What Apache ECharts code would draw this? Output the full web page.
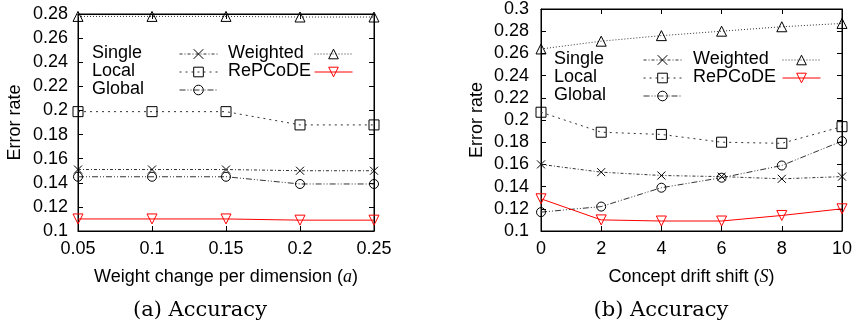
<!DOCTYPE html>
<html>
<head>
<meta charset="utf-8">
<script src="https://cdn.jsdelivr.net/npm/echarts@6/dist/echarts.min.js"></script>
<style>html,body{margin:0;padding:0;background:#fff}#c{width:860px;height:328px}</style>
</head>
<body>
<div id="c"></div>
<script>
// ---- data ----
var leftX = ['0.05', '0.1', '0.15', '0.2', '0.25'];
var leftSingle = [0.151, 0.151, 0.151, 0.150, 0.150];
var leftLocal = [0.199, 0.199, 0.199, 0.188, 0.188];
var leftGlobal = [0.145, 0.145, 0.145, 0.139, 0.139];
var leftWeighted = [0.278, 0.278, 0.278, 0.2775, 0.2775];
var leftRePCoDE = [0.110, 0.110, 0.110, 0.109, 0.109];

var rightX = ['0', '2', '4', '6', '8', '10'];
var rightSingle = [0.160, 0.153, 0.150, 0.149, 0.147, 0.149];
var rightLocal = [0.207, 0.189, 0.187, 0.180, 0.179, 0.194];
var rightGlobal = [0.117, 0.122, 0.139, 0.148, 0.159, 0.181];
var rightWeighted = [0.264, 0.271, 0.276, 0.280, 0.284, 0.287];
var rightRePCoDE = [0.129, 0.110, 0.109, 0.109, 0.114, 0.120];

var seriesNames = ['Single', 'Local', 'Global', 'Weighted', 'RePCoDE'];
var leftYTicks = {min: 0.1, max: 0.28, interval: 0.02};
var rightYTicks = {min: 0.1, max: 0.3, interval: 0.02};

// ---- styles ----
var FONT = "'Liberation Sans', Arial, sans-serif";
var styles = {
  Single:   {symbol: 'path://M0 0L10 10M10 0L0 10', size: 8, line: '#333', mark: '#000', dash: [3, 2, 1, 2], rotate: 0},
  Local:    {symbol: 'rect', size: 10, line: '#333', mark: '#000', dash: [2, 4], rotate: 0},
  Global:   {symbol: 'circle', size: 9, line: '#333', mark: '#000', dash: [6, 2, 1, 2, 1, 2], rotate: 0},
  Weighted: {symbol: 'triangle', size: 10, line: '#333', mark: '#000', dash: [1, 2], rotate: 0},
  RePCoDE:  {symbol: 'triangle', size: 10, line: '#ff0000', mark: '#ff0000', dash: 'solid', rotate: 180}
};

function mkSeries(name, data, gi) {
  var s = styles[name];
  return {
    type: 'line', name: name, data: data,
    xAxisIndex: gi, yAxisIndex: gi,
    symbol: s.symbol, symbolSize: s.size, symbolRotate: s.rotate,
    showAllSymbol: true,
    lineStyle: {color: s.line, width: 1, type: s.dash},
    itemStyle: {color: 'rgba(255,255,255,0)', borderColor: s.mark, borderWidth: 1},
    emphasis: {disabled: true},
    z: 3
  };
}

var leftData = {Single: leftSingle, Local: leftLocal, Global: leftGlobal, Weighted: leftWeighted, RePCoDE: leftRePCoDE};
var rightData = {Single: rightSingle, Local: rightLocal, Global: rightGlobal, Weighted: rightWeighted, RePCoDE: rightRePCoDE};

var series = [];
seriesNames.forEach(function (n) { series.push(mkSeries(n, leftData[n], 0)); });
seriesNames.forEach(function (n) { series.push(mkSeries(n, rightData[n], 1)); });

var yFmt = function (v) { return String(+v.toFixed(2)); };
var tick = {show: true, inside: true, length: 5, lineStyle: {color: '#000', width: 1}};
var axLine = {show: true, lineStyle: {color: '#000', width: 1}};
var lbl = {color: '#000', fontFamily: FONT, fontSize: 18};

function xMain(gi, data, name, gap) {
  return {type: 'category', gridIndex: gi, data: data, boundaryGap: false, position: 'bottom',
    axisLine: axLine, axisTick: tick, axisLabel: Object.assign({margin: 9, interval: 0}, lbl),
    splitLine: {show: false},
    name: name, nameLocation: 'middle', nameGap: gap,
    nameTextStyle: {color: '#000', fontFamily: FONT, fontSize: 18,
      rich: {i: {fontFamily: "'Liberation Serif', serif", fontStyle: 'italic', fontSize: 18, color: '#000'}}}};
}
function xTop(gi, data) {
  return {type: 'category', gridIndex: gi, data: data, boundaryGap: false, position: 'top',
    axisLine: axLine, axisTick: tick, axisLabel: {show: false}, splitLine: {show: false}};
}
function yMain(gi, t, margin, gap) {
  return {type: 'value', gridIndex: gi, min: t.min, max: t.max, interval: t.interval, position: 'left',
    axisLine: axLine, axisTick: tick, splitLine: {show: false},
    axisLabel: Object.assign({margin: margin, formatter: yFmt}, lbl),
    name: 'Error rate', nameLocation: 'middle', nameGap: gap, nameRotate: 90,
    nameTextStyle: {color: '#000', fontFamily: FONT, fontSize: 18}};
}
function yRight(gi, t) {
  return {type: 'value', gridIndex: gi, min: t.min, max: t.max, interval: t.interval, position: 'right',
    axisLine: axLine, axisTick: tick, splitLine: {show: false}, axisLabel: {show: false}};
}

// legend positions (sample start x, row center y) and label positions
var legendLayout = [
  // left chart
  {name: 'Single',   lx: 92,  sx: 179, y: 54},
  {name: 'Local',    lx: 92,  sx: 179, y: 72},
  {name: 'Global',   lx: 92,  sx: 179, y: 90},
  {name: 'Weighted', lx: 228, sx: 314, y: 54},
  {name: 'RePCoDE',  lx: 228, sx: 314, y: 72},
  // right chart
  {name: 'Single',   lx: 554, sx: 643, y: 60},
  {name: 'Local',    lx: 554, sx: 643, y: 78},
  {name: 'Global',   lx: 554, sx: 643, y: 96},
  {name: 'Weighted', lx: 693, sx: 782, y: 60},
  {name: 'RePCoDE',  lx: 693, sx: 782, y: 78}
];

var legends = legendLayout.map(function (L) {
  var s = styles[L.name];
  return {data: [L.name], left: L.sx, top: L.y - 6, itemWidth: 38, itemHeight: 12, padding: 0,
    selectedMode: false, formatter: function () { return ''; }, textStyle: {fontSize: 1},
    itemStyle: {color: 'rgba(255,255,255,0)', borderColor: s.mark, borderWidth: 1},
    lineStyle: {color: s.line, width: 1, type: s.dash}};
});

var graphics = legendLayout.map(function (L) {
  return {type: 'text', left: L.lx, top: L.y - 10, style: {text: L.name, fontFamily: FONT, fontSize: 18, fill: '#000'}};
});
graphics.push({type: 'text', x: 200, y: 311, style: {text: '(a) Accuracy', fontFamily: "'DejaVu Serif', serif", fontSize: 21, fill: '#000', align: 'center', verticalAlign: 'middle'}});
graphics.push({type: 'text', x: 661, y: 311, style: {text: '(b) Accuracy', fontFamily: "'DejaVu Serif', serif", fontSize: 21, fill: '#000', align: 'center', verticalAlign: 'middle'}});

var option = {
  animation: false,
  backgroundColor: '#fff',
  grid: [
    {left: 78, top: 14, width: 296, height: 217, show: true, borderColor: '#000', borderWidth: 1, backgroundColor: 'transparent'},
    {left: 541, top: 9, width: 301, height: 222, show: true, borderColor: '#000', borderWidth: 1, backgroundColor: 'transparent'}
  ],
  xAxis: [
    xMain(0, leftX, 'Weight change per dimension ({i|a})', 37),
    xMain(1, rightX, 'Concept drift shift ({i|S})', 37),
    xTop(0, leftX), xTop(1, rightX)
  ],
  yAxis: [
    yMain(0, leftYTicks, 10, 54),
    yMain(1, rightYTicks, 12, 55),
    yRight(0, leftYTicks), yRight(1, rightYTicks)
  ],
  legend: legends,
  graphic: graphics,
  series: series
};

var chart = echarts.init(document.getElementById('c'), null, {renderer: 'canvas'});
chart.setOption(option);
</script>
</body>
</html>
